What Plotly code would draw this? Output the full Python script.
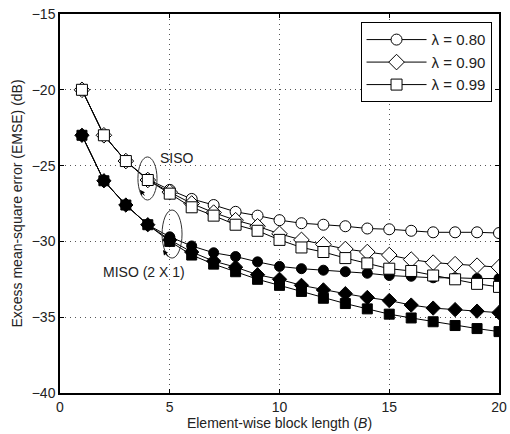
import plotly.graph_objects as go

B = list(range(1, 21))

siso_080 = [-20.0, -23.0, -24.7, -25.9, -26.6, -27.2, -27.6, -28.05, -28.3, -28.6,
            -28.8, -28.9, -29.0, -29.15, -29.2, -29.3, -29.4, -29.4, -29.4, -29.45]
siso_090 = [-20.0, -23.0, -24.7, -25.95, -26.75, -27.5, -28.1, -28.6, -29.0, -29.5,
            -29.9, -30.2, -30.5, -30.7, -30.9, -31.2, -31.4, -31.5, -31.6, -31.7]
siso_099 = [-20.0, -23.0, -24.7, -25.95, -26.85, -27.75, -28.3, -28.9, -29.3, -29.9,
            -30.4, -30.7, -31.1, -31.45, -31.8, -31.95, -32.25, -32.5, -32.8, -33.0]
miso_080 = [-23.0, -26.0, -27.6, -28.9, -29.7, -30.3, -30.75, -31.0, -31.35, -31.65,
            -31.8, -31.9, -32.0, -32.1, -32.25, -32.3, -32.4, -32.4, -32.45, -32.45]
miso_090 = [-23.0, -26.0, -27.6, -28.9, -29.9, -30.7, -31.3, -31.7, -32.2, -32.5,
            -32.9, -33.2, -33.45, -33.7, -33.9, -34.2, -34.4, -34.5, -34.6, -34.7]
miso_099 = [-23.0, -26.0, -27.6, -28.9, -30.0, -30.9, -31.5, -32.0, -32.5, -32.9,
            -33.3, -33.75, -34.1, -34.45, -34.8, -35.05, -35.3, -35.55, -35.75, -35.95]

labels = ["λ = 0.80", "λ = 0.90", "λ = 0.99"]
symbols = ["circle", "diamond", "square"]

fig = go.Figure()

for ys, sym in zip([miso_080, miso_090, miso_099], symbols):
    fig.add_trace(go.Scatter(
        x=B, y=ys, mode="lines+markers", showlegend=False,
        line=dict(color="black", width=1),
        marker=dict(symbol=sym, size=10 if sym != "diamond" else 11, color="black",
                    line=dict(color="black", width=1)),
    ))

for ys, sym, lab in zip([siso_080, siso_090, siso_099], symbols, labels):
    fig.add_trace(go.Scatter(
        x=B, y=ys, mode="lines+markers", name=lab,
        line=dict(color="black", width=1),
        marker=dict(symbol=sym, size=11 if sym != "diamond" else 12, color="white",
                    line=dict(color="black", width=1)),
    ))

font = "Liberation Sans, Arial, sans-serif"
txtcol = "#222222"

# ellipses
fig.add_shape(type="circle", xref="x", yref="y", x0=3.55, x1=4.42, y0=-27.27, y1=-24.43,
              line=dict(color="#333333", width=1))
fig.add_shape(type="circle", xref="x", yref="y", x0=4.65, x1=5.56, y0=-31.1, y1=-27.93,
              line=dict(color="#333333", width=1))

fig.add_annotation(x=5.35, y=-24.5, text="SISO", showarrow=False,
                   font=dict(family=font, size=14, color=txtcol))
fig.add_annotation(x=3.84, y=-32.0, text="MISO (2 X 1)", showarrow=False,
                   font=dict(family=font, size=14, color=txtcol))
# small arrowheads on ellipses
fig.add_annotation(x=3.64, y=-26.6, ax=3.9, ay=-27.07, xref="x", yref="y", axref="x", ayref="y",
                   text="", showarrow=True, arrowhead=2, arrowsize=1, arrowwidth=1, arrowcolor="black")
fig.add_annotation(x=4.69, y=-30.57, ax=4.97, ay=-31.1, xref="x", yref="y", axref="x", ayref="y",
                   text="", showarrow=True, arrowhead=2, arrowsize=1, arrowwidth=1, arrowcolor="black")

axis_common = dict(
    showline=True, linecolor="black", linewidth=1.5, mirror="ticks",
    ticks="inside", ticklen=4, tickcolor="black",
    showgrid=True, gridcolor="#555555", griddash="1px,4px", gridwidth=1,
    zeroline=False, automargin=False,
    tickfont=dict(family=font, size=14, color=txtcol),
)

fig.update_xaxes(range=[0, 20], dtick=5, tick0=0,
                 title=dict(text="Element-wise block length (<i>B</i>)",
                            font=dict(family=font, size=14, color=txtcol), standoff=2),
                 **axis_common)
fig.update_yaxes(range=[-40, -15], dtick=5, tick0=-40,
                 title=dict(text="Excess mean-square error (EMSE) (dB)",
                            font=dict(family=font, size=14, color=txtcol), standoff=6),
                 **axis_common)

fig.update_layout(
    width=510, height=434,
    margin=dict(l=60, r=11, t=14, b=41),
    plot_bgcolor="white", paper_bgcolor="white",
    legend=dict(x=0.983, y=0.978, xanchor="right", yanchor="top",
                bgcolor="white", bordercolor="black", borderwidth=1,
                font=dict(family=font, size=15, color=txtcol),
                itemwidth=60, tracegroupgap=0),
)

fig.write_html("out.html", config={"displayModeBar": False},
               post_script="document.body.style.margin='0px';document.body.style.overflow='hidden';")
